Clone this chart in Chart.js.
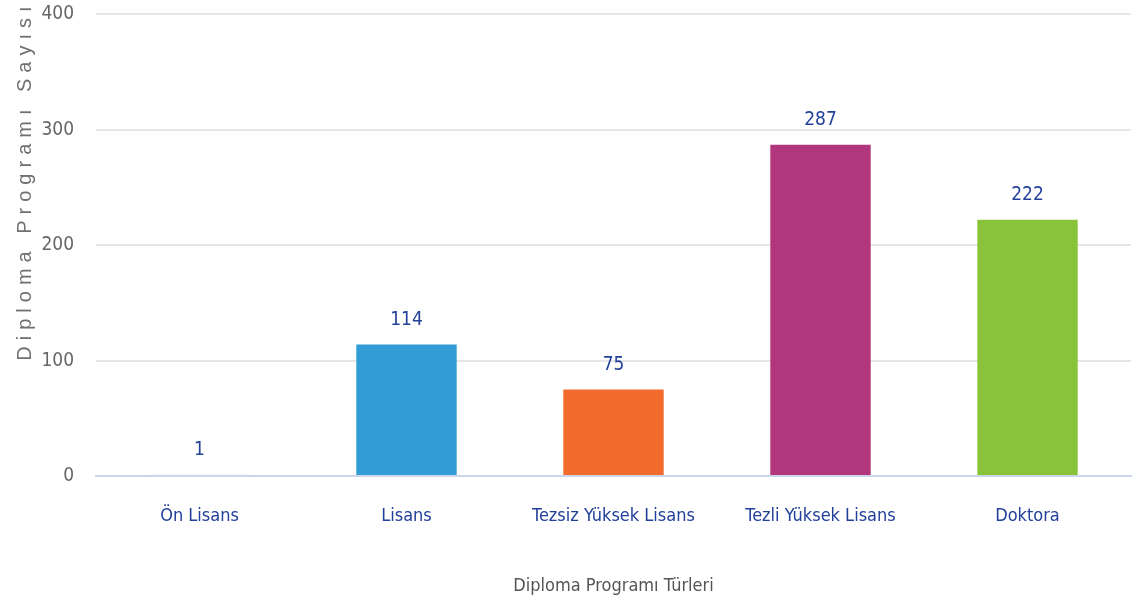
<!DOCTYPE html>
<html>
<head>
<meta charset="utf-8">
<script src="https://cdn.jsdelivr.net/npm/chart.js@4"></script>
<style>
  html, body { margin: 0; padding: 0; background: #fff; }
  #wrap { width: 1132px; height: 603px; }
</style>
</head>
<body>
<div id="wrap"><canvas id="chart"></canvas></div>
<script>
// kategoriler ve degerler
const categories = ['Ön Lisans', 'Lisans', 'Tezsiz Yüksek Lisans', 'Tezli Yüksek Lisans', 'Doktora'];
const counts = [1, 114, 75, 287, 222];
const barColors = ['#ccd6eb', '#329cd6', '#f26b2d', '#b2367c', '#88c33a'];
const yTicks = [0, 100, 200, 300, 400];
const yTitle = 'Diploma Programı Sayısı';
const xTitle = 'Diploma Programı Türleri';

const narrow = '"DejaVu Sans Condensed", "Liberation Sans Narrow", "Roboto Condensed", sans-serif';

// degerleri cubuklarin ustune yaz
const valueLabels = {
    id: 'valueLabels',
    afterDatasetsDraw(chart) {
        const c = chart.ctx;
        const meta = chart.getDatasetMeta(0);
        c.save();
        c.font = '19px ' + narrow;
        c.fillStyle = '#23409a';
        c.textAlign = 'center';
        c.textBaseline = 'bottom';
        meta.data.forEach(function (bar, i) {
            c.fillText(String(counts[i]), bar.x, bar.y - 15);
        });
        c.restore();
    }
};

// y ekseni basligi (harf araligi ile)
const yAxisTitle = {
    id: 'yAxisTitle',
    afterDraw(chart) {
        const c = chart.ctx;
        const area = chart.chartArea;
        c.save();
        c.translate(25, area.top - 14);
        c.rotate(-Math.PI / 2);
        c.font = '20px "Liberation Sans", Arial, sans-serif';
        c.letterSpacing = '6px';
        c.fillStyle = '#707070';
        c.textAlign = 'right';
        c.textBaseline = 'middle';
        c.fillText(yTitle, 0, 0);
        c.restore();
    }
};

new Chart(document.getElementById('chart'), {
    type: 'bar',
    data: {
        labels: categories,
        datasets: [{
            data: counts,
            backgroundColor: barColors,
            borderWidth: 0,
            barPercentage: 0.485,
            categoryPercentage: 1
        }]
    },
    options: {
        responsive: true,
        maintainAspectRatio: false,
        animation: false,
        layout: { padding: { top: 0, right: 1, left: 0, bottom: 0 } },
        plugins: {
            legend: { display: false },
            tooltip: { enabled: false }
        },
        scales: {
            x: {
                grid: { display: false },
                border: { color: '#ccd6eb', width: 2 },
                ticks: {
                    color: '#22409a',
                    font: { family: narrow, size: 18 },
                    padding: 22
                },
                title: {
                    display: true,
                    text: xTitle,
                    color: '#555555',
                    font: { family: narrow, size: 18 },
                    padding: { top: 40, bottom: 6 }
                },
                afterFit(scale) { scale.height = 127; }
            },
            y: {
                min: 0,
                max: 400,
                afterBuildTicks(scale) {
                    scale.ticks = yTicks.map(function (v) { return { value: v }; });
                },
                grid: {
                    color: '#e6e6e6',
                    lineWidth: 2,
                    drawTicks: true,
                    tickLength: 19,
                    tickColor: 'rgba(0,0,0,0)'
                },
                border: { display: false },
                ticks: {
                    color: '#666666',
                    font: { family: narrow, size: 19 },
                    padding: 3
                },
                afterFit(scale) { scale.width = 96; }
            }
        }
    },
    plugins: [valueLabels, yAxisTitle]
});
</script>
</body>
</html>
